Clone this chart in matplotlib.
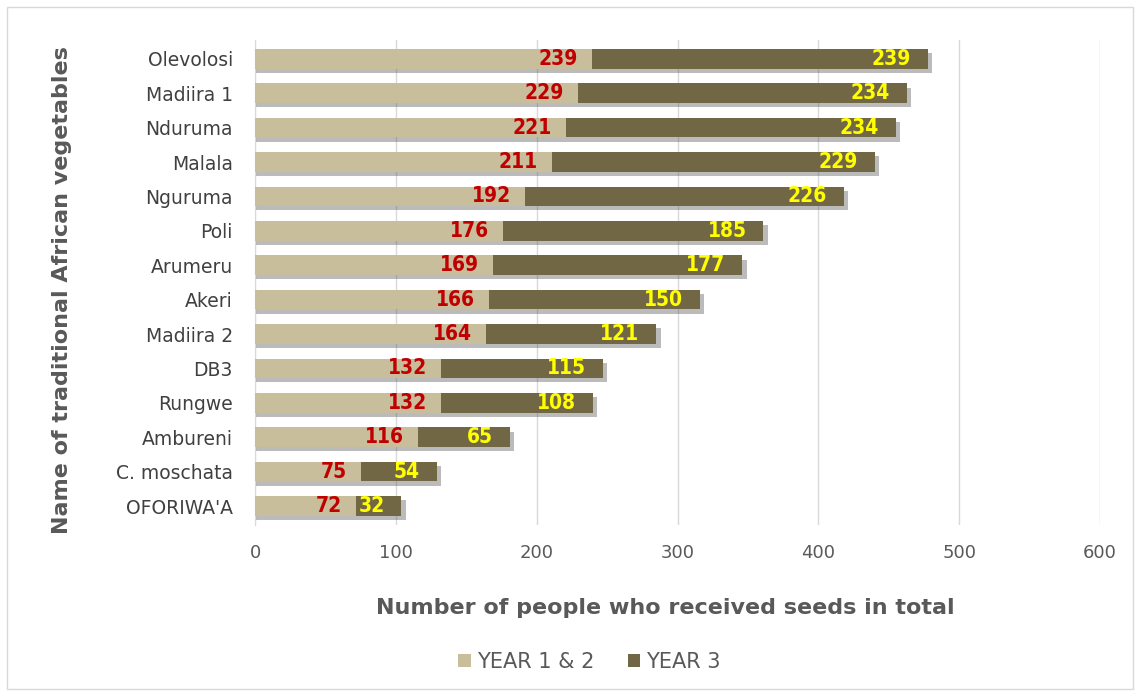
import numpy as np
import matplotlib.pyplot as plt
from matplotlib.patches import Rectangle

# Dados
vegetais = ['Olevolosi', 'Madiira 1', 'Nduruma', 'Malala', 'Nguruma', 'Poli', 'Arumeru',
            'Akeri', 'Madiira 2', 'DB3', 'Rungwe', 'Ambureni', 'C. moschata', "OFORIWA'A"]
ano12 = [239, 229, 221, 211, 192, 176, 169, 166, 164, 132, 132, 116, 75, 72]
ano3 = [239, 234, 234, 229, 226, 185, 177, 150, 121, 115, 108, 65, 54, 32]

cor_clara = '#C8BE9C'
cor_escura = '#726745'

fig = plt.figure(figsize=(11.4, 6.96), dpi=100)
ax = fig.add_axes([0.2237, 0.2457, 0.7412, 0.697])

y = np.arange(len(vegetais))
a = np.array(ano12)
b = np.array(ano3)
h = 0.57

# sombra
ax.barh(y + 0.12, a + b + 2, left=1, height=h, color='#555555', alpha=0.4, zorder=2)
ax.barh(y, a, height=h, color=cor_clara, label='YEAR 1 & 2', zorder=3)
ax.barh(y, b, left=a, height=h, color=cor_escura, label='YEAR 3', zorder=3)

for i in range(len(y)):
    ax.text(a[i] - 10, y[i], str(a[i]), ha='right', va='center', color='#C00000',
            fontsize=15, fontweight='bold', fontstretch='condensed', zorder=4)
    ax.text(a[i] + b[i] - 12, y[i], str(b[i]), ha='right', va='center', color='#FFFF00',
            fontsize=15, fontweight='bold', fontstretch='condensed', zorder=4)

ax.set_yticks(y)
ax.set_yticklabels(vegetais, fontsize=13.5, color='#404040')
ax.set_ylim(13.55, -0.55)
ax.set_xlim(0, 600)
ax.set_xticks([0, 100, 200, 300, 400, 500, 600])
ax.tick_params(axis='x', colors='#595959', labelsize=13, length=0, pad=14)
ax.tick_params(axis='y', length=0, pad=16)
ax.grid(axis='x', color='#D9D9D9', linewidth=1, zorder=0)
ax.set_axisbelow(True)
for s in ['top', 'right', 'bottom']:
    ax.spines[s].set_visible(False)
ax.spines['left'].set_color('#D9D9D9')

ax.set_xlabel('Number of people who received seeds in total', fontsize=16,
              fontweight='bold', color='#595959')
ax.xaxis.set_label_coords(0.485, -0.15)
ax.set_ylabel('Name of traditional African vegetables', fontsize=16,
              fontweight='bold', color='#595959')
ax.yaxis.set_label_coords(-0.2166, 0.485)

ax.legend(loc='center', bbox_to_anchor=(0.396, -0.282), ncol=2, frameon=False,
          fontsize=15, handlelength=0.6, handleheight=0.6, columnspacing=1.6,
          handletextpad=0.3, labelcolor='#595959')

# borda da figura
fig.patches.append(Rectangle((0.006, 0.01), 0.988, 0.98, transform=fig.transFigure,
                             fill=False, edgecolor='#D9D9D9', linewidth=1))

plt.savefig('out.png', dpi=100)
